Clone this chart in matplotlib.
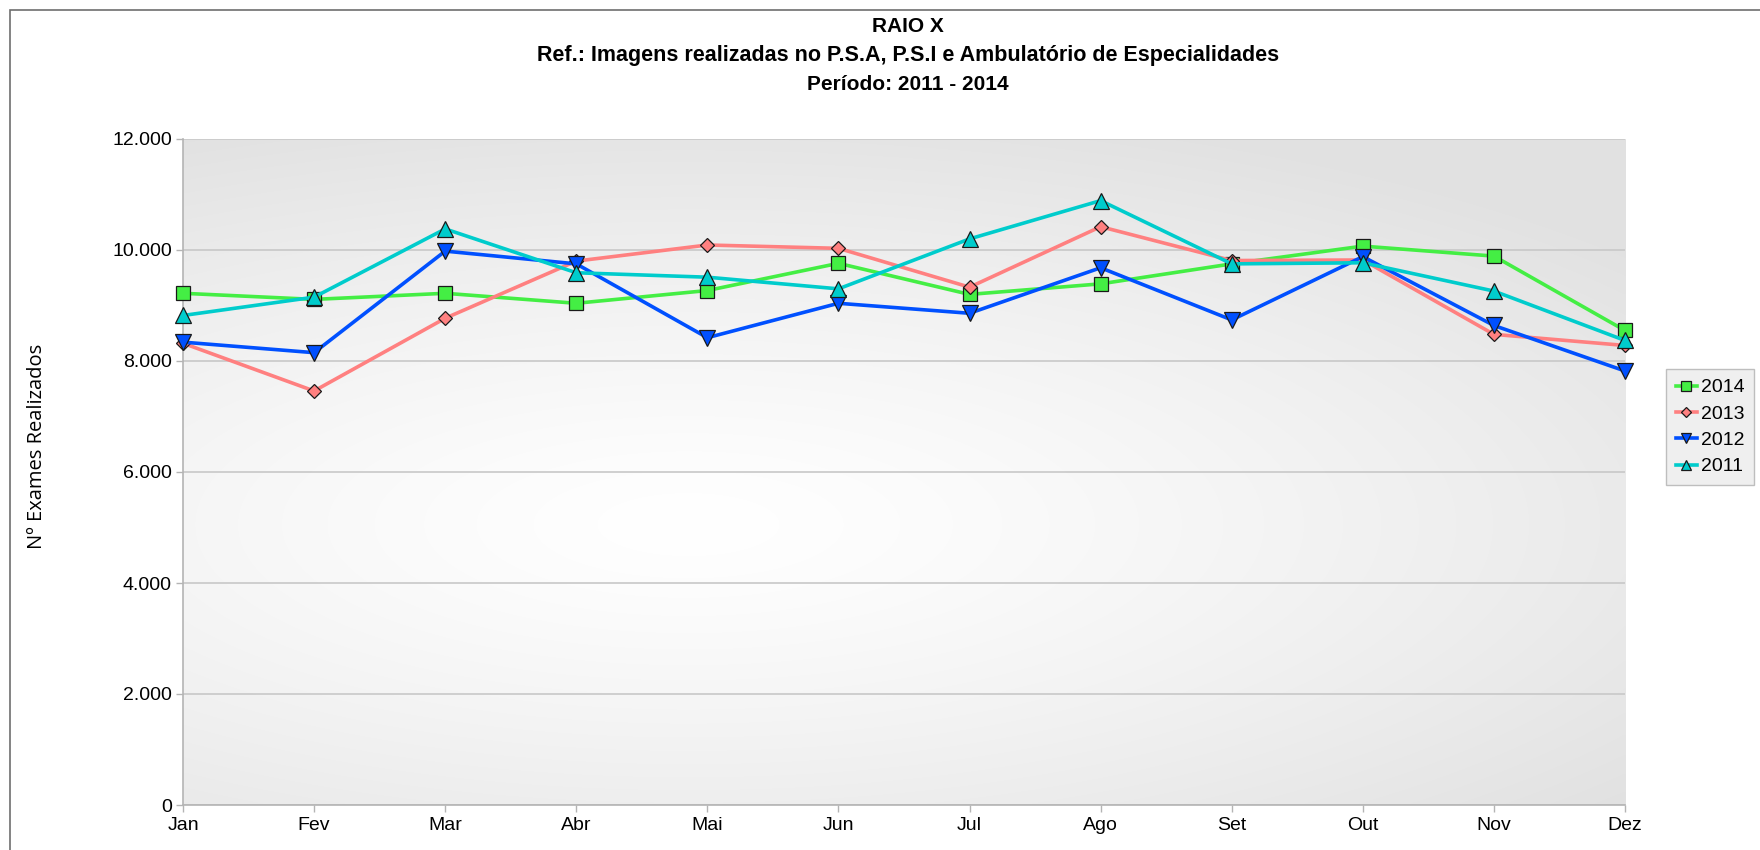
import numpy as np
import matplotlib
matplotlib.use("Agg")
import matplotlib.pyplot as plt
from matplotlib.ticker import FuncFormatter, MultipleLocator
from matplotlib.patches import Rectangle

months = ["Jan", "Fev", "Mar", "Abr", "Mai", "Jun", "Jul", "Ago", "Set", "Out", "Nov", "Dez"]
s2014 = [9220, 9110, 9220, 9040, 9270, 9760, 9200, 9390, 9750, 10070, 9890, 8550]
s2013 = [8320, 7460, 8770, 9800, 10090, 10030, 9330, 10420, 9810, 9820, 8480, 8280]
s2012 = [8340, 8150, 9980, 9750, 8420, 9040, 8860, 9680, 8740, 9880, 8640, 7820]
s2011 = [8820, 9150, 10380, 9590, 9510, 9300, 10200, 10890, 9750, 9770, 9260, 8370]
years = ["2014", "2013", "2012", "2011"]

plt.rcParams['font.family'] = ['Liberation Sans', 'DejaVu Sans']

W, H = 1760, 850
fig = plt.figure(figsize=(W / 100, H / 100), dpi=100)
fig.patch.set_facecolor("white")

left, right, top, bottom = 183, 1625, 139, 805
ax = fig.add_axes([left / W, 1 - bottom / H, (right - left) / W, (bottom - top) / H])

# gradient background
ny, nx = 200, 400
yy, xx = np.mgrid[0:1:ny * 1j, 0:1:nx * 1j]
r = np.sqrt(((xx - 0.35) / 1.0) ** 2 + ((yy - 0.42) / 0.75) ** 2)
g = 1.0 - 0.115 * np.clip(r / 0.85, 0, 1) ** 1.3
img = np.dstack([g, g, g])
ax.imshow(img, extent=[0, 11, 0, 12000], origin="lower", aspect="auto", zorder=0,
          interpolation="bilinear")

x = np.arange(len(months))
styles = [
    (s2014, "#44ee44", "s", 10),
    (s2013, "#ff8080", "D", 7.5),
    (s2012, "#0050ff", "v", 11),
    (s2011, "#00cccc", "^", 11),
]
for (vals, col, mk, ms), lab in zip(styles, years):
    ax.plot(x, vals, color=col, lw=2.6, marker=mk, markersize=ms,
            markerfacecolor=col, markeredgecolor="#1a1a1a", markeredgewidth=0.9,
            label=lab, zorder=3, clip_on=False)

ax.set_xlim(0, 11)
ax.set_ylim(0, 12000)
ax.yaxis.set_major_locator(MultipleLocator(2000))
ax.yaxis.set_major_formatter(FuncFormatter(lambda v, p: f"{int(v):,}".replace(",", ".")))
ax.set_xticks(x)
ax.set_xticklabels(months)
ax.grid(axis="y", color="#c8c8c8", lw=1.2, zorder=1)
for s in ["top", "right"]:
    ax.spines[s].set_visible(False)
for s in ["left", "bottom"]:
    ax.spines[s].set_color("#b4b4b4")
    ax.spines[s].set_linewidth(1.2)
ax.tick_params(axis="both", colors="#b4b4b4", labelcolor="black", labelsize=14,
               length=5, width=1, direction="out")
ax.tick_params(axis="x", pad=4)
ax.tick_params(axis="y", pad=3)
ax.set_axisbelow(True)

fig.text(37 / W, 1 - 446 / H, "Nº Exames Realizados", rotation=90, ha="center", va="center",
         fontsize=14.5, family=["Open Sans", "DejaVu Sans"])

cx = 908 / W
fig.text(cx, 1 - 27 / H, "RAIO X", ha="center", va="center",
         fontsize=15, fontweight="bold")
fig.text(cx, 1 - 56 / H,
         "Ref.: Imagens realizadas no P.S.A, P.S.I e Ambulatório de Especialidades",
         ha="center", va="center", fontsize=15.5, fontweight="bold")
fig.text(cx, 1 - 84 / H, "Período: 2011 - 2014", ha="center", va="center",
         fontsize=15, fontweight="bold")

leg = fig.legend(loc="upper left", bbox_to_anchor=(1666 / W, 1 - 369 / H),
                 fontsize=14, frameon=True, fancybox=False, handlelength=1.1,
                 handletextpad=0.2, borderpad=0.5, labelspacing=0.45, borderaxespad=0,
                 markerscale=0.65)
leg.get_frame().set_facecolor("#ececec")
leg.get_frame().set_edgecolor("#b0b0b0")
leg.get_frame().set_linewidth(1.0)

fig.add_artist(Rectangle((10 / W, -0.1), 1.2, 1 - 10 / H + 0.1, transform=fig.transFigure,
                         fill=False, edgecolor="#6e6e6e", lw=1.2, clip_on=False))

fig.savefig("out.png", dpi=100)
